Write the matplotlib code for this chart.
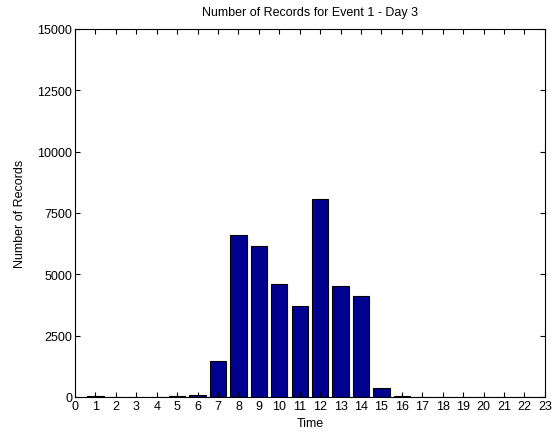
import numpy as np
import matplotlib.pyplot as plt

plt.rcParams['font.family'] = ['Liberation Sans', 'DejaVu Sans']

# hourly record counts, hours 1..23
hours = np.arange(1, 24)
records = [30, 8, 5, 5, 30, 90, 1450, 6620, 6150, 4610, 3690, 8080,
           4530, 4120, 350, 40, 8, 5, 5, 5, 5, 5, 5]

fig = plt.figure(figsize=(5.6, 4.39), dpi=100)
ax = fig.add_axes([0.134, 0.0934, 0.839, 0.8383])

ax.bar(hours, records, width=0.8, color='#000090', edgecolor='black', linewidth=0.8)

ax.set_xlim(0, 23)
ax.set_ylim(0, 15000)
ax.set_xticks(np.arange(0, 24))
ax.set_yticks(np.arange(0, 15001, 2500))
ax.tick_params(direction='in', top=True, right=True, length=3.5, labelsize=9,
               width=0.8, pad=2)
for s in ax.spines.values():
    s.set_linewidth(0.8)

ax.set_xlabel('Time', fontsize=9, labelpad=4)
ax.set_ylabel('Number of Records', fontsize=9, labelpad=8)
ax.set_title('Number of Records for Event 1 - Day 3', fontsize=9, pad=10)

fig.savefig('out.png', dpi=100)
